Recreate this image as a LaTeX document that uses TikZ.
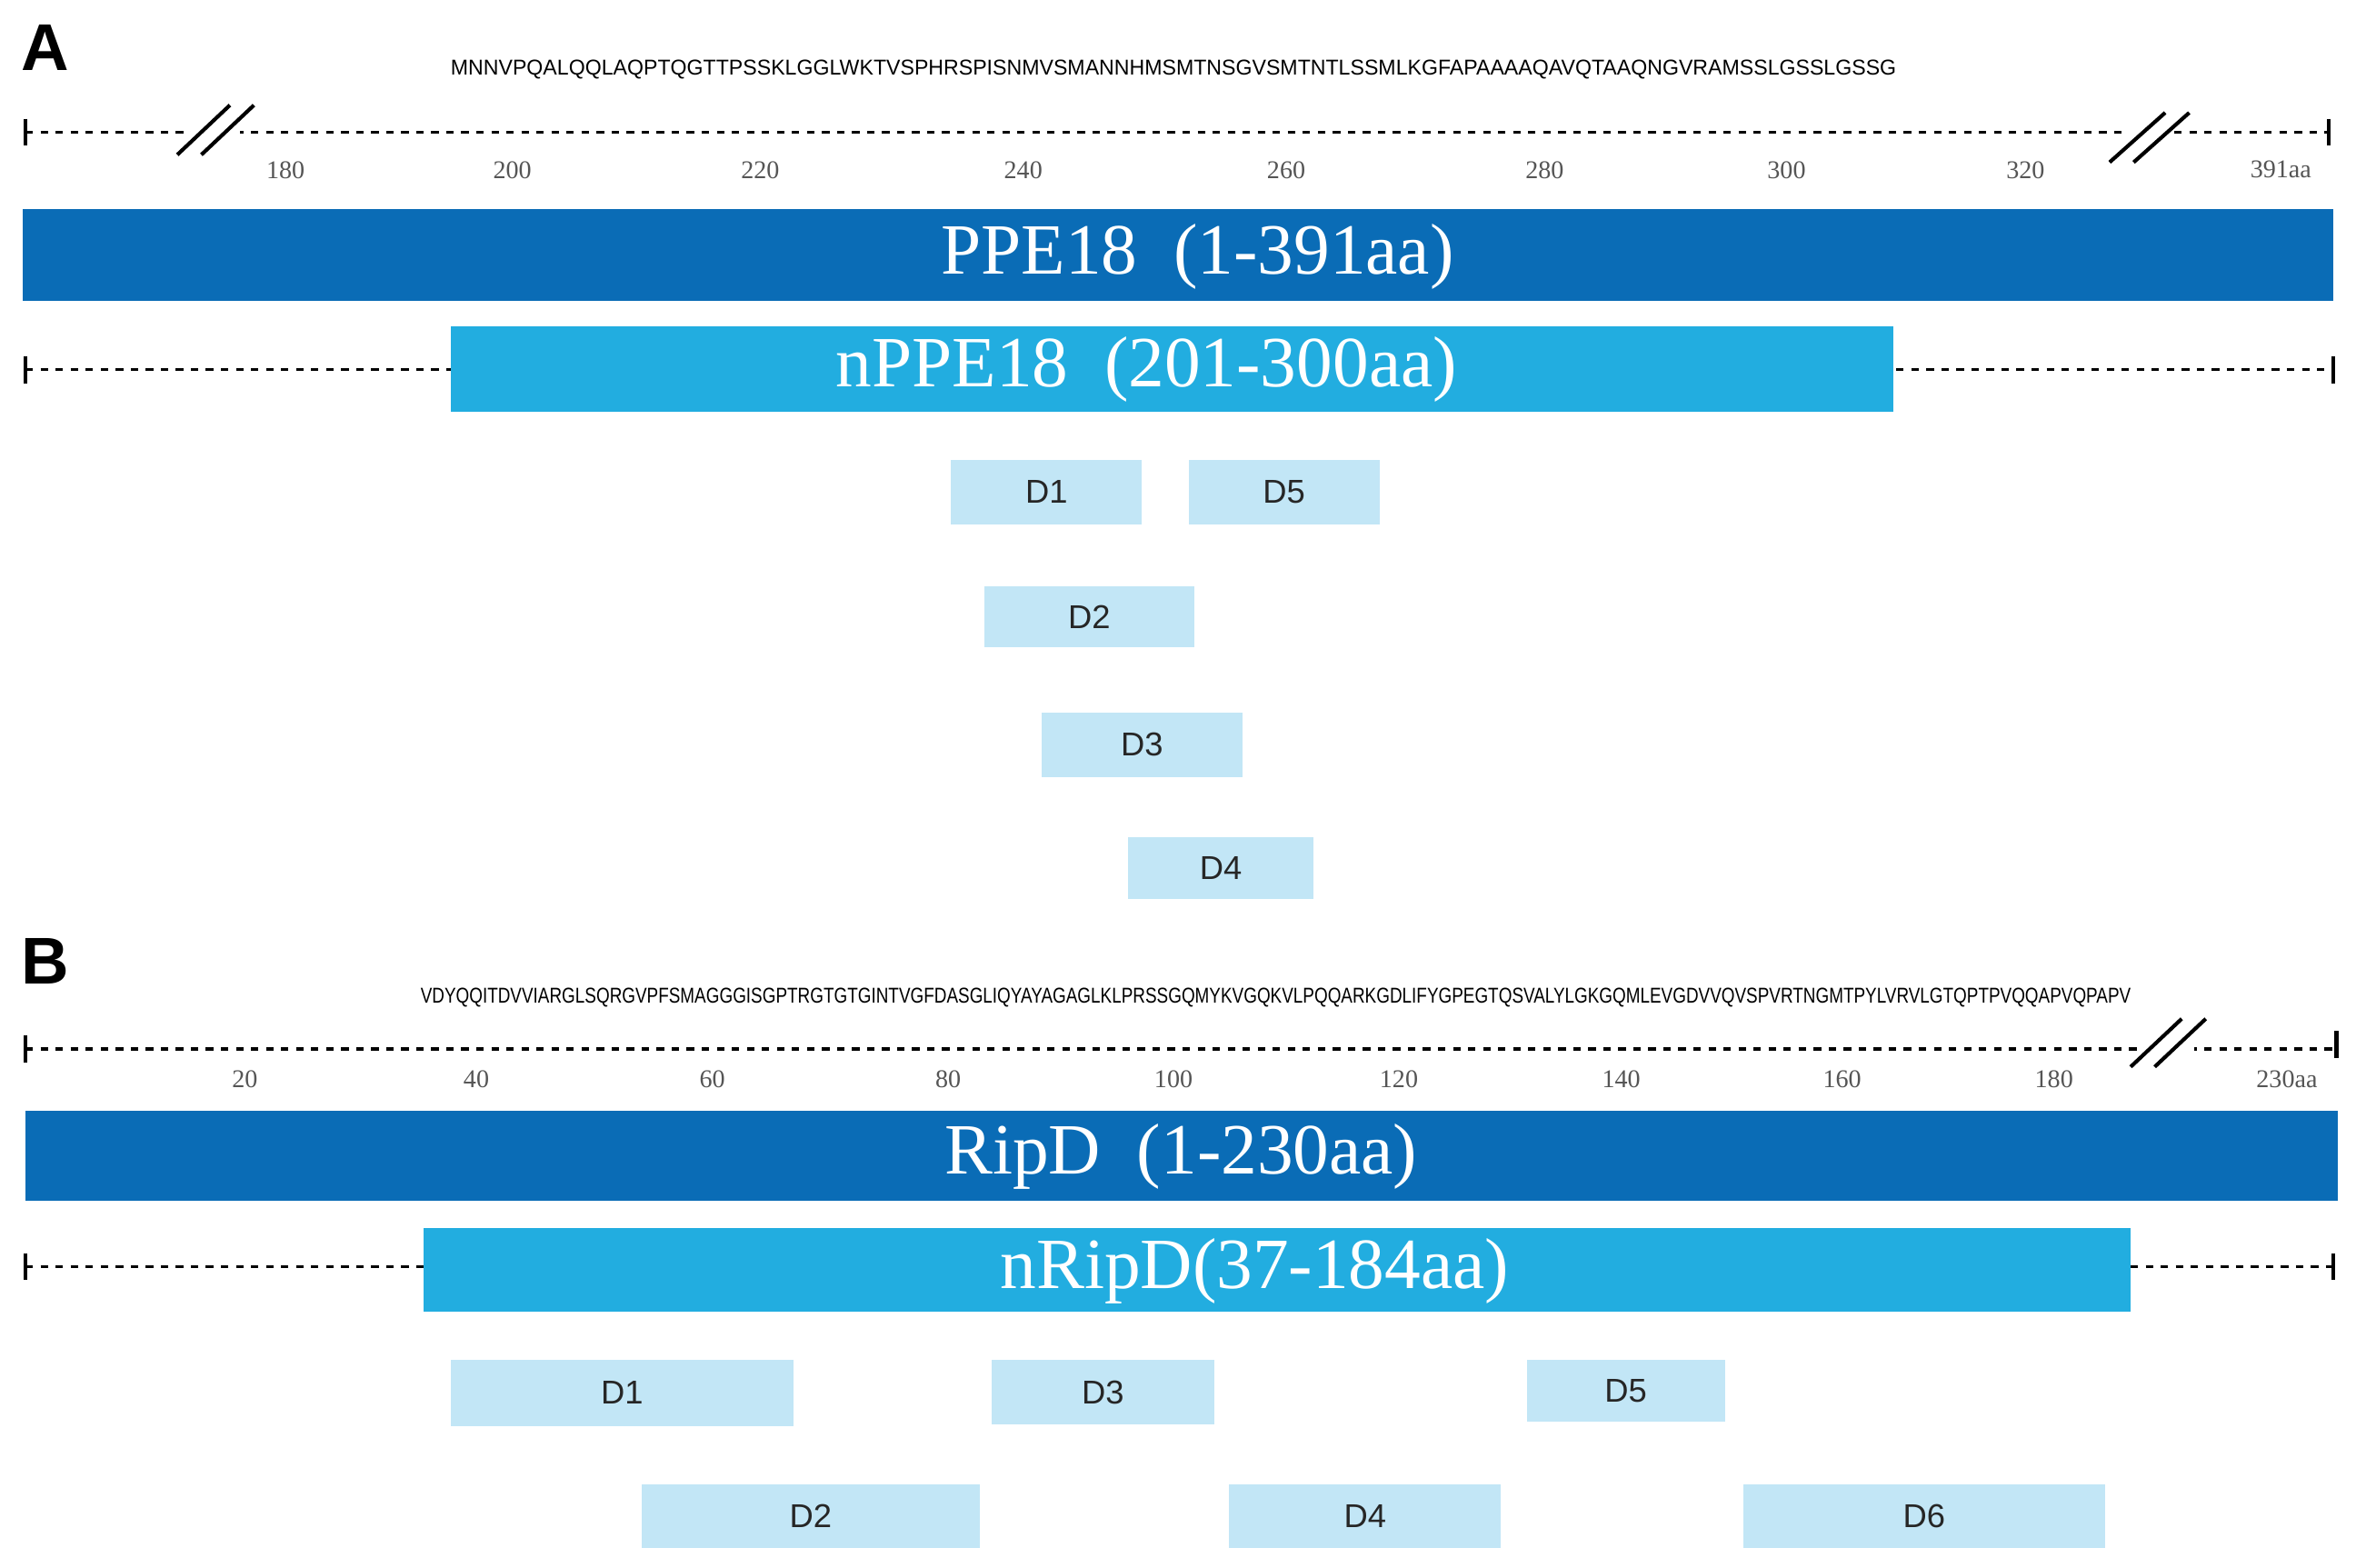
\documentclass[tikz,border=0pt]{standalone}
\usepackage{fontspec}
\usepackage{graphicx}
\setmainfont{Liberation Serif}
\newfontfamily\sans{Liberation Sans}
\definecolor{dblue}{HTML}{0A6CB6}
\definecolor{mblue}{HTML}{22ADE0}
\definecolor{lblue}{HTML}{C2E6F6}
\definecolor{gtxt}{HTML}{555555}
\tikzset{
 dln/.style={line width=2pt,dash pattern=on 5pt off 5pt},
 endt/.style={line width=2.5pt},
 bt/.style={text=white,font=\fontsize{48}{50}\selectfont},
 dt/.style={font=\sans\fontsize{22}{24}\selectfont,text=black!85},
 tl/.style={font=\fontsize{17}{18}\selectfont,text=gtxt},
 lab/.style={font=\sans\bfseries\fontsize{44}{46}\selectfont},
 brk/.style={line width=2.5pt}
}
\newcommand{\dbx}[6]{\fill[lblue] (#2,#4) rectangle (#3,#5); \node[dt] (#1) at ({(#2+#3)/2},{(#4+#5)/2}) {#6};}
\begin{document}
\begin{tikzpicture}[x=1pt,y=-1pt]
\useasboundingbox (0,0) rectangle (1568,1043);
% ---------- A
\node[lab] (LA) at (30,32) {A};
\node (seqA) at (781,46) {\resizebox{962pt}{10pt}{\sans MNNVPQALQQLAQPTQGTTPSSKLGGLWKTVSPHRSPISNMVSMANNHMSMTNSGVSMTNTLSSMLKGFAPAAAAQAVQTAAQNGVRAMSSLGSSLGSSG}};
\coordinate (a0) at (17,88); \coordinate (a1) at (1550,88);
\draw[dln] (a0) -- (a1);
\draw[endt] (17,79) -- (17,97); \draw[endt] (1550,79) -- (1550,97);
\fill[white] (127,78) rectangle (160,98); \fill[white] (1413,78) rectangle (1446,98);
\draw[brk] (118,103) -- (153,70); \draw[brk] (134,103) -- (169,70);
\draw[brk] (1404,108) -- (1441,75); \draw[brk] (1420,108) -- (1457,75);
\foreach \v/\x in {180/190,200/341,220/506,240/681,260/856,280/1028,300/1189,320/1348,391aa/1518}
  \node[tl] at (\x,113) {\v};
\fill[dblue] (15,139) rectangle (1553,200);
\node[bt] (PPE) at (797,171) {PPE18\ \ (1-391aa)};
\draw[dln] (17,246) -- (300,246); \draw[dln] (1262,246) -- (1553,246);
\draw[endt] (17,237) -- (17,255); \draw[endt] (1553,237) -- (1553,255);
\fill[mblue] (300,217) rectangle (1260,274);
\node[bt] (nPPE) at (763,246) {nPPE18\ \ (201-300aa)};
\dbx{A1}{633}{760}{306}{349}{D1}
\dbx{A5}{791}{918}{306}{349}{D5}
\dbx{A2}{655}{795}{390}{431}{D2}
\dbx{A3}{693}{827}{474}{517}{D3}
\dbx{A4}{751}{874}{557}{598}{D4}
% ---------- B
\node[lab] (LB) at (30,640) {B};
\node (seqB) at (849,664) {\resizebox{1138pt}{10pt}{\sans VDYQQITDVVIARGLSQRGVPFSMAGGGISGPTRGTGTGINTVGFDASGLIQYAYAGAGLKLPRSSGQMYKVGQKVLPQQARKGDLIFYGPEGTQSVALYLGKGQMLEVGDVVQVSPVRTNGMTPYLVRVLGTQPTPVQQAPVQPAPV}};
\draw[dln] (17,698) -- (1555,698);
\draw[endt] (17,689) -- (17,707); \draw[endt] (1555,686) -- (1555,704);
\fill[white] (1427,688) rectangle (1460,708);
\draw[brk] (1418,710) -- (1452,678); \draw[brk] (1434,710) -- (1468,678);
\foreach \v/\x in {20/163,40/317,60/474,80/631,100/781,120/931,140/1079,160/1226,180/1367,230aa/1522}
  \node[tl] at (\x,718) {\v};
\fill[dblue] (17,739) rectangle (1556,799);
\node[bt] (Rip) at (786,770) {RipD\ \ (1-230aa)};
\draw[dln] (17,843) -- (282,843); \draw[dln] (1418,843) -- (1553,843);
\draw[endt] (17,834) -- (17,852); \draw[endt] (1553,834) -- (1553,852);
\fill[mblue] (282,817) rectangle (1418,873);
\node[bt] (nRip) at (835,846) {nRipD(37-184aa)};
\dbx{B1}{300}{528}{905}{949}{D1}
\dbx{B3}{660}{808}{905}{948}{D3}
\dbx{B5}{1016}{1148}{905}{946}{D5}
\dbx{B2}{427}{652}{988}{1030}{D2}
\dbx{B4}{818}{999}{988}{1030}{D4}
\dbx{B6}{1160}{1401}{988}{1030}{D6}
\end{tikzpicture}
\end{document}
